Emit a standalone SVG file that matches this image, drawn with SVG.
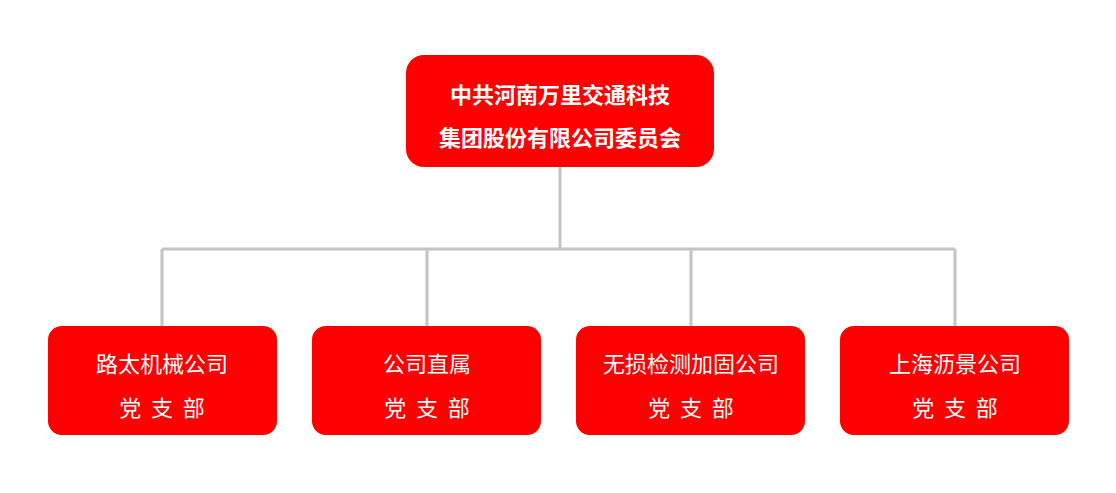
<svg xmlns="http://www.w3.org/2000/svg" width="1116" height="493" viewBox="0 0 1116 493">
<style>
.box{fill:#fe0000}
.t{fill:#fff;font-family:"Noto Sans CJK SC","Noto Sans",sans-serif;font-size:22px;text-anchor:middle}
.b{font-weight:bold}
.c{stroke:#c3c3c3;stroke-width:3;fill:none}
</style>
<rect width="1116" height="493" fill="#fff"/>
<g id="connectors">
<path class="c" d="M560,167V249M162,249H955M162,249V326M427,249V326M691,249V326M955,249V326"/>
</g>
<g id="root"><rect class="box" x="406" y="55" width="308" height="112" rx="18"/>
<text class="t b" x="560" y="103">中共河南万里交通科技</text>
<text class="t b" x="560" y="146">集团股份有限公司委员会</text></g>
<g id="n1"><rect class="box" x="48" y="326" width="229" height="109" rx="14"/>
<text class="t" x="162" y="372">路太机械公司</text><text class="t" x="162" y="416" xml:space="preserve">党  支  部</text></g>
<g id="n2"><rect class="box" x="312" y="326" width="229" height="109" rx="14"/>
<text class="t" x="427" y="372">公司直属</text><text class="t" x="427" y="416" xml:space="preserve">党  支  部</text></g>
<g id="n3"><rect class="box" x="576" y="326" width="229" height="109" rx="14"/>
<text class="t" x="691" y="372">无损检测加固公司</text><text class="t" x="691" y="416" xml:space="preserve">党  支  部</text></g>
<g id="n4"><rect class="box" x="840" y="326" width="229" height="109" rx="14"/>
<text class="t" x="955" y="372">上海沥景公司</text><text class="t" x="955" y="416" xml:space="preserve">党  支  部</text></g>
</svg>
